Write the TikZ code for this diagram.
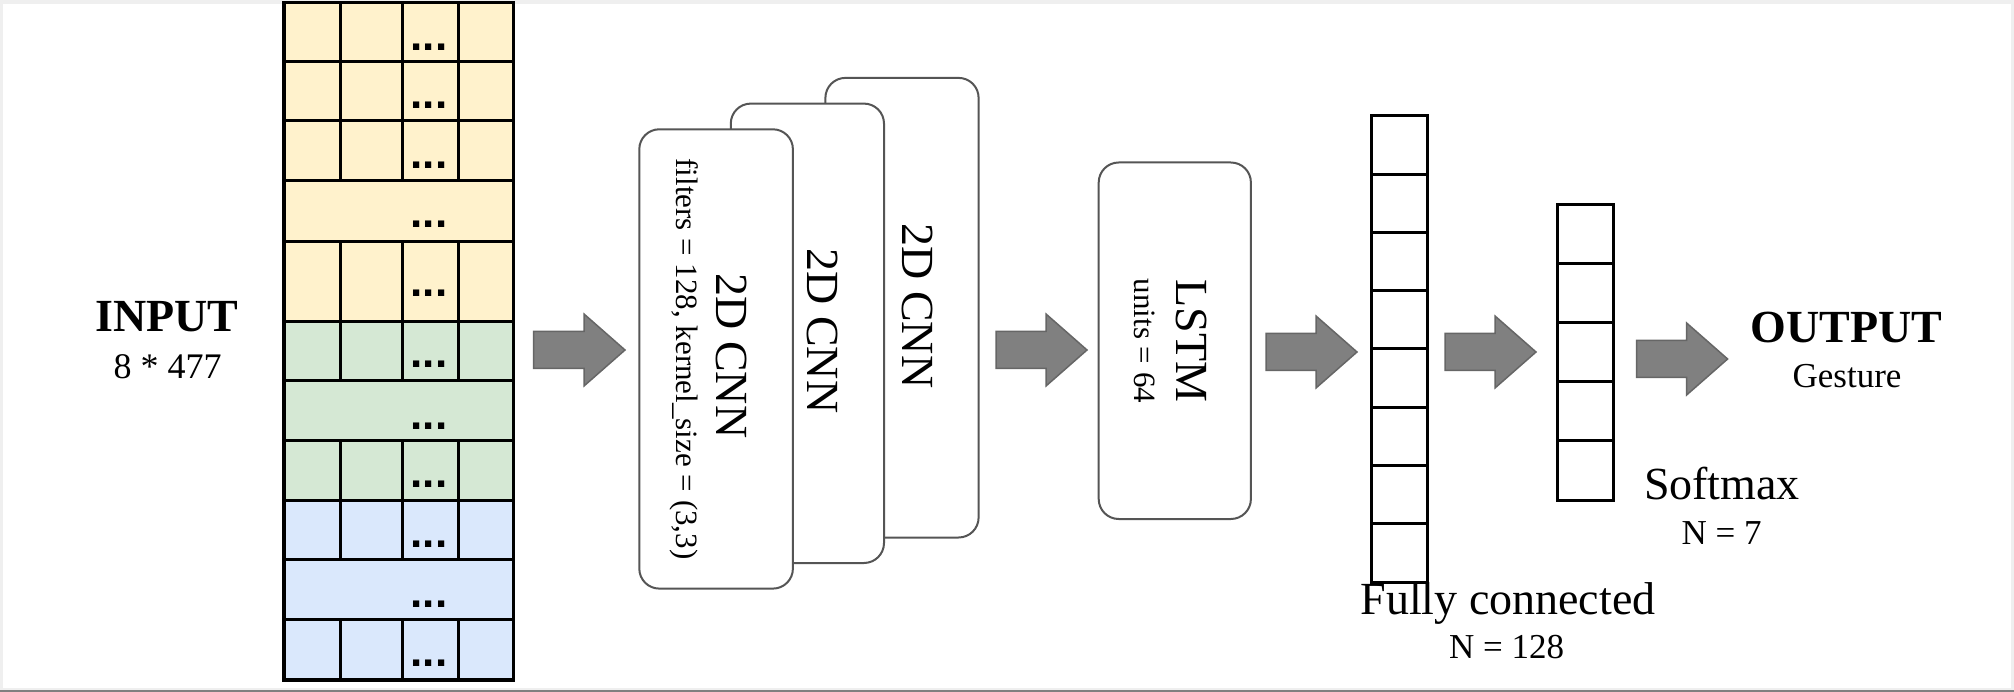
\documentclass[tikz,border=0pt]{standalone}
\usepackage{fontspec}
\setmainfont{Liberation Serif}
\newfontfamily\dotsfont{Liberation Sans}
\definecolor{ylw}{HTML}{FFF2CC}
\definecolor{grn}{HTML}{D5E8D4}
\definecolor{blu}{HTML}{DAE8FC}
\definecolor{boxgray}{HTML}{555555}
\definecolor{arrowfill}{HTML}{808080}
\definecolor{arrowedge}{HTML}{666666}
\definecolor{framegray}{HTML}{EFEFEF}
\newcommand\blkarrow[3]{%
  \filldraw[blockarrow] (#1,#3-18.5) -- (#2-41,#3-18.5) -- (#2-41,#3-36) -- (#2,#3)
    -- (#2-41,#3+36) -- (#2-41,#3+18.5) -- (#1,#3+18.5) -- cycle;}
\begin{document}
\begin{tikzpicture}[x=1pt,y=-1pt,
  cnnbox/.style={draw=boxgray,line width=2pt,rounded corners=20pt,fill=white},
  blockarrow/.style={fill=arrowfill,draw=arrowedge,line width=1.5pt,line join=miter},
  gridline/.style={draw=black,line width=3pt},
  big/.style={font=\fontsize{46}{50}\selectfont,inner sep=0pt,anchor=base},
  bigb/.style={font=\fontsize{46}{50}\selectfont\bfseries,inner sep=0pt,anchor=base},
  small/.style={font=\fontsize{35}{40}\selectfont,inner sep=0pt,anchor=base},
  rotbig/.style={font=\fontsize{46}{50}\selectfont,inner sep=0pt,rotate=-90},
  rotsmall/.style={font=\fontsize{31}{36}\selectfont,inner sep=0pt,rotate=-90},
  dotsnode/.style={font=\dotsfont\bfseries\fontsize{44}{48}\selectfont,inner sep=0pt,anchor=base}
]
\useasboundingbox (0,0) rectangle (2014,692);
% frame
\fill[framegray] (0,0) rectangle (2014,692);
\fill[white] (3,4) rectangle (2011,688);
\fill[arrowfill] (0,689.5) rectangle (2014,692);

% ---------- input grid ----------
\def\xa{284}\def\xb{340.5}\def\xc{402}\def\xd{458}\def\xe{513.5}
\fill[ylw] (\xa,2.5) rectangle (\xe,322);
\fill[grn] (\xa,322) rectangle (\xe,500);
\fill[blu] (\xa,500) rectangle (\xe,680);
% inner verticals for non-merged rows
\foreach \ya/\yb in {2.5/180.5, 241.5/380.5, 440.3/559, 619.5/680}{
  \draw[gridline] (\xb,\ya) -- (\xb,\yb);
  \draw[gridline] (\xc,\ya) -- (\xc,\yb);
  \draw[gridline] (\xd,\ya) -- (\xd,\yb);
}
\foreach \y in {61.8,121,180.5,241.5,322,380.5,440.3,500,559,619.5}{
  \draw[gridline] (\xa,\y) -- (\xe,\y);
}
\draw[draw=black,line width=3.5pt] (\xa,2.5) rectangle (\xe,680);
\foreach \y [count=\i] in {51,109,169,228,297,368,430,487.5,547,607.5,666}{
  \node[dotsnode] (dots\i) at (429,\y) {...};
}

% ---------- labels input ----------
\node[bigb] (inp) at (167,332) {INPUT};
\node[small,font=\fontsize{36}{40}\selectfont] (inpsize) at (167.5,378.6) {8 * 477};

% ---------- CNN boxes ----------
\draw[cnnbox] (825.4,77.9) rectangle (978.6,537.5);
\node[rotbig] (cnn3) at (917,306) {2D CNN};
\draw[cnnbox] (730.8,103.6) rectangle (884,563);
\node[rotbig] (cnn2) at (822,331) {2D CNN};
\draw[cnnbox] (639.3,129.3) rectangle (792.9,588.6);
\node[rotbig] (cnn1) at (731,356) {2D CNN};
\node[rotsmall] (cnn1p) at (684,359) {filters = 128, kernel\_size = (3,3)};

% ---------- LSTM ----------
\draw[cnnbox] (1098.7,162.5) rectangle (1250.9,519);
\node[rotbig] (lstm) at (1191,341) {LSTM};
\node[rotsmall] (lstmp) at (1145,341) {units = 64};

% ---------- Fully connected ----------
\foreach \k in {0,...,7}{
  \draw[gridline] (1371,116+58.25*\k) rectangle (1427,116+58.25*\k+58.25);
}
\node[big] (fc) at (1508,614) {Fully connected};
\node[small] (fcn) at (1506.5,658) {N = 128};

% ---------- Softmax ----------
\foreach \k in {0,...,4}{
  \draw[gridline] (1557,205+59*\k) rectangle (1613.5,205+59*\k+59);
}
\node[big] (sm) at (1722,499) {Softmax};
\node[small] (smn) at (1721.5,544) {N = 7};

% ---------- output ----------
\node[bigb] (out) at (1846.5,343) {OUTPUT};
\node[small] (outg) at (1847,388) {Gesture};

% ---------- arrows ----------
\blkarrow{533.5}{625}{350}
\blkarrow{996}{1087}{350}
\blkarrow{1266}{1357}{352}
\blkarrow{1445}{1536}{352}
\blkarrow{1636.5}{1727.6}{359}
\end{tikzpicture}
\end{document}
